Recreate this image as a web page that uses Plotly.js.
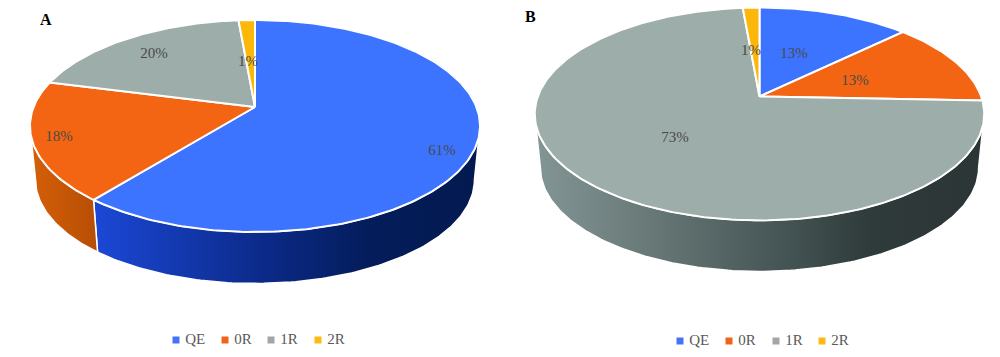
<!DOCTYPE html>
<html>
<head>
<meta charset="utf-8">
<script src="https://cdn.plot.ly/plotly-3.0.1.min.js"></script>
<style>html,body{margin:0;padding:0;background:#fff}#chart{width:1000px;height:357px}</style>
</head>
<body>
<div id="chart"></div>
<script>
// ---- data ----
const categories = ['QE', '0R', '1R', '2R'];
const valuesA = [60.8, 18.2, 19.6, 1.4];
const valuesB = [12.8, 12.8, 73.0, 1.4];
const panelNames = ['A', 'B'];

// ---- styles ----
const topColors = ['#3C74FF', '#F36513', '#9DADA9', '#FCB80A'];
const swatchColors = ['#4472F8', '#F0631A', '#A5A5A5', '#FBBB14'];
const wallScales = [
  [[0, '#1B48D6'], [0.42, '#0C2B8C'], [0.72, '#041C5A'], [1, '#031A50']],
  [[0, '#D65F08'], [1, '#B64E05']],
  [[0, '#829695'], [0.25, '#697978'], [0.55, '#455555'], [0.75, '#2F3A3A'], [1, '#2C3535']],
  [[0, '#C08C08'], [1, '#906806']]
];
const serif = 'Liberation Serif, serif';

// ---- projection of each tilted disc (perspective) ----
const geomA = {cx: 255, apexY: 107, k: 0.179, a: 221.4, b: 102.6, s: 0.975, baseY: 161.6,
  labels: [[442, 151], [59, 137], [154, 54], [248, 62]],
  legendX: [176, 225, 271, 318], legendY: 340, title: [46, 19]};
const geomB = {cx: 759.5, apexY: 96.5, k: 0.164, a: 221.7, b: 103.6, s: 0.975, baseY: 150.6,
  labels: [[794, 54], [855, 81], [675, 138], [751, 51]],
  legendX: [680, 729, 776, 822], legendY: 341, title: [530, 16]};

function project(deg, g, level) {
  const t = deg * Math.PI / 180, u = Math.sin(t), v = Math.cos(t), d = 1 + g.k * v;
  const X = g.a * u / d, Y = g.b * v / d;
  return level === 0 ? [g.cx + X, g.apexY - Y] : [g.cx + g.s * X, g.baseY - g.s * Y];
}
function arc(a0, a1, g, level) {
  const n = Math.max(2, Math.ceil(Math.abs(a1 - a0))), pts = [];
  for (let i = 0; i <= n; i++) pts.push(project(a0 + (a1 - a0) * i / n, g, level));
  return pts;
}

function panelTraces(values, g, name, xa, ya) {
  const total = values.reduce((p, c) => p + c, 0);
  const walls = [], tops = [], labels = [], legend = [];
  const limit = Math.acos(-g.k) * 180 / Math.PI;
  let cum = 0;
  values.forEach((val, i) => {
    const a0 = cum / total * 360, a1 = (cum + val) / total * 360;
    cum += val;
    const w0 = Math.max(a0, limit), w1 = Math.min(a1, 360 - limit);
    if (w1 > w0) {
      const pts = arc(w0, w1, g, 0).concat(arc(w1, w0, g, 1));
      pts.push(pts[0]);
      walls.push({type: 'scatter', mode: 'lines', xaxis: xa, yaxis: ya, x: pts.map(p => p[0]), y: pts.map(p => p[1]),
        fill: 'toself', fillgradient: {type: 'horizontal', colorscale: wallScales[i]},
        line: {color: '#fff', width: 1.5}, hoverinfo: 'skip', showlegend: false, name: categories[i] + ' side'});
    }
    const pts = [[g.cx, g.apexY]].concat(arc(a0, a1, g, 0));
    pts.push(pts[0]);
    tops.push({type: 'scatter', mode: 'lines', xaxis: xa, yaxis: ya, x: pts.map(p => p[0]), y: pts.map(p => p[1]),
      fill: 'toself', fillcolor: topColors[i], line: {color: '#fff', width: 2},
      showlegend: false, name: categories[i], text: categories[i] + ': ' + Math.round(val) + '%', hoverinfo: 'text'});
    labels.push({type: 'scatter', mode: 'text', xaxis: xa, yaxis: ya, x: [g.labels[i][0]], y: [g.labels[i][1]],
      text: [Math.round(val) + '%'], textposition: 'middle center',
      textfont: {family: serif, size: 15, color: '#4A4A4A'}, hoverinfo: 'skip', showlegend: false});
    legend.push({type: 'scatter', mode: 'markers+text', xaxis: xa, yaxis: ya, x: [g.legendX[i]], y: [g.legendY],
      text: [' ' + categories[i]], textposition: 'middle right',
      textfont: {family: serif, size: 15, color: '#595959'},
      marker: {symbol: 'square', size: 7, color: swatchColors[i]}, hoverinfo: 'skip', showlegend: false, name: categories[i]});
  });
  return walls.concat(tops, labels, legend);
}

const traces = panelTraces(valuesA, geomA, panelNames[0], 'x', 'y')
  .concat(panelTraces(valuesB, geomB, panelNames[1], 'x2', 'y2'));

const hiddenAxis = {visible: false, fixedrange: true, showgrid: false, zeroline: false};
const layout = {
  width: 1000, height: 357, margin: {l: 0, r: 0, t: 0, b: 0},
  paper_bgcolor: '#fff', plot_bgcolor: '#fff', showlegend: false,
  xaxis:  Object.assign({}, hiddenAxis, {domain: [0, 0.5], range: [0, 500]}),
  yaxis:  Object.assign({}, hiddenAxis, {domain: [0, 1], range: [357, 0]}),
  xaxis2: Object.assign({}, hiddenAxis, {domain: [0.5, 1], range: [500, 1000]}),
  yaxis2: Object.assign({}, hiddenAxis, {domain: [0, 1], range: [357, 0], anchor: 'x2'}),
  annotations: [
    {xref: 'x', yref: 'y', x: geomA.title[0], y: geomA.title[1], text: '<b>' + panelNames[0] + '</b>', showarrow: false,
     font: {family: serif, size: 16, color: '#000'}},
    {xref: 'x2', yref: 'y2', x: geomB.title[0], y: geomB.title[1], text: '<b>' + panelNames[1] + '</b>', showarrow: false,
     font: {family: serif, size: 16, color: '#000'}}
  ]
};
Plotly.newPlot('chart', traces, layout, {displayModeBar: false, staticPlot: false});
</script>
</body>
</html>
